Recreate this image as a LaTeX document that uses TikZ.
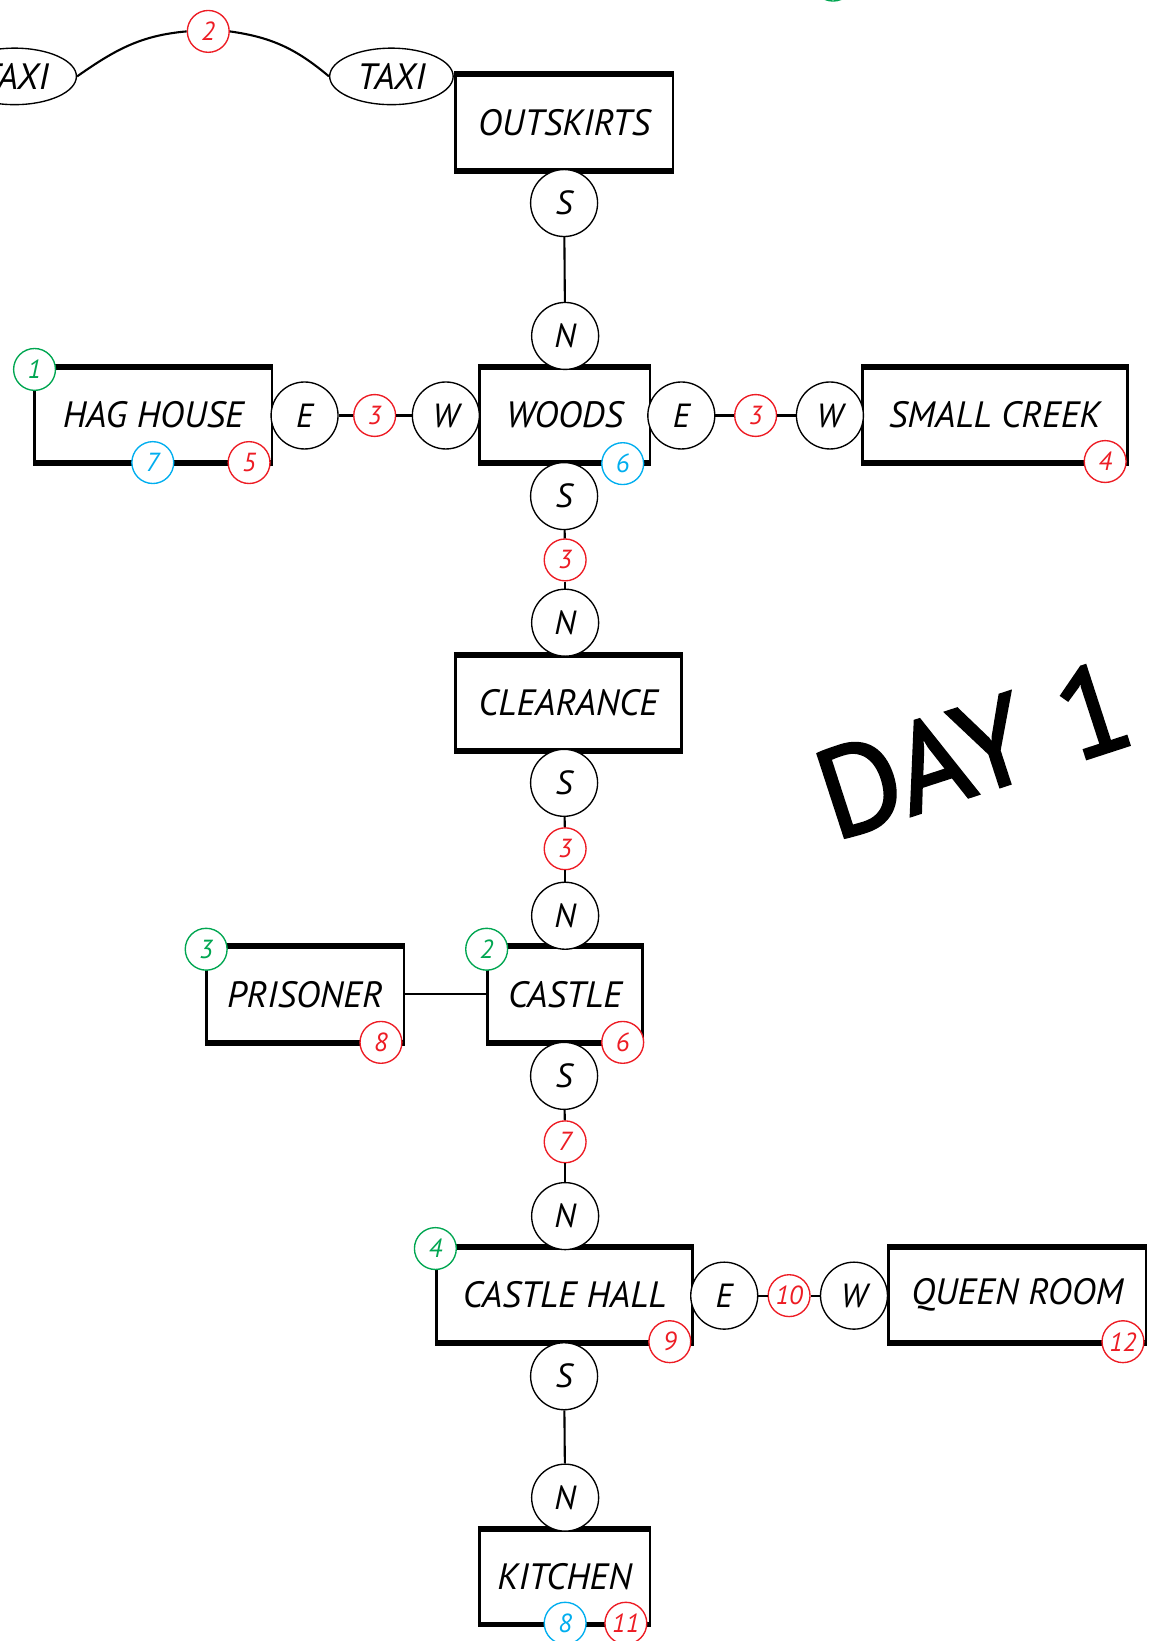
\documentclass[tikz,border=0pt]{standalone}
\usepackage{fontspec}
\setmainfont{PT Sans}
\newfontfamily\dayfont[FakeBold=2]{PT Sans}
\usetikzlibrary{shapes.geometric}
\definecolor{bred}{HTML}{ED1C24}
\definecolor{bblue}{HTML}{00AEEF}
\definecolor{bgreen}{HTML}{00A651}
\tikzset{
  room/.style={draw, line width=2.6, fill=white, inner sep=0, font=\itshape\fontsize{35}{35}\selectfont},
  roomedge/.style={line width=5.5},
  dir/.style={circle, draw, line width=1.3, fill=white, minimum size=64, inner sep=0, font=\itshape\fontsize{32}{32}\selectfont},
  badge/.style={circle, draw=#1, text=#1, line width=1.3, fill=white, minimum size=40, inner sep=0, font=\itshape\fontsize{25}{25}\selectfont},
  taxi/.style={ellipse, draw, line width=1.3, fill=white, minimum width=118, minimum height=54, inner sep=0, font=\itshape\fontsize{35}{35}\selectfont},
  link/.style={line width=2}
}
\begin{document}
\begin{tikzpicture}[x=1pt,y=-1pt]
\useasboundingbox (0,0) rectangle (1098,1568);
\clip (0,0) rectangle (1098,1568);

% rooms
\node[room, minimum width=208, minimum height=90] (out) at (539,117) {OUTSKIRTS};
\node[room, minimum width=163, minimum height=89] (woods) at (539.5,396.5) {WOODS};
\node[room, minimum width=227, minimum height=89] (hag) at (146.5,396.5) {HAG HOUSE};
\node[room, minimum width=253, minimum height=89] (creek) at (950.5,396.5) {SMALL CREEK};
\node[room, minimum width=216, minimum height=89] (clear) at (543,671.5) {CLEARANCE};
\node[room, minimum width=148, minimum height=90] (castle) at (540,950) {CASTLE};
\node[room, minimum width=189, minimum height=90] (prison) at (291.5,950) {PRISONER};
\node[room, minimum width=245, minimum height=89] (hall) at (539.5,1237.5) {CASTLE HALL};
\node[room, minimum width=246, minimum height=89] (queen) at (972,1237.5) {QUEEN ROOM};
\node[room, minimum width=163, minimum height=89] (kitchen) at (539.5,1506.5) {KITCHEN};
\foreach \n in {out,woods,hag,creek,clear,castle,prison,hall,queen,kitchen}{
  \draw[roomedge] (\n.north west) -- (\n.north east);
  \draw[roomedge] (\n.south west) -- (\n.south east);
}

% taxis
\node[taxi] (taxil) at (14,73) {TAXI};
\node[taxi] (taxir) at (374,73) {TAXI};

% direction circles
\node[dir] (s1) at (539,194) {S};
\node[dir] (n1) at (540,321) {N};
\node[dir] (he) at (291,397) {E};
\node[dir] (ww) at (426,397) {W};
\node[dir] (we) at (651,397) {E};
\node[dir] (cw) at (793,397) {W};
\node[dir] (s2) at (539,474) {S};
\node[dir] (n2) at (540,595) {N};
\node[dir] (s3) at (539,748) {S};
\node[dir] (n3) at (540,875) {N};
\node[dir] (s4) at (539,1028) {S};
\node[dir] (n4) at (540,1162) {N};
\node[dir] (hle) at (692,1238) {E};
\node[dir] (qw) at (816,1238) {W};
\node[dir] (s5) at (539,1315) {S};
\node[dir] (n5) at (540,1431) {N};

% badges
\node[badge=bred] (b2) at (199,30) {2};
\node[badge=bgreen] (g0) at (796,-19) {};
\node[badge=bgreen] (g1) at (33,353) {1};
\node[badge=bblue] (bl7) at (146,442) {7};
\node[badge=bred] (r5) at (238,442) {5};
\node[badge=bred] (r3a) at (358,397) {3};
\node[badge=bblue] (bl6) at (595,443) {6};
\node[badge=bred] (r3b) at (722,397) {3};
\node[badge=bred] (r4) at (1056,441) {4};
\node[badge=bred] (r3c) at (540,535) {3};
\node[badge=bred] (r3d) at (540,811) {3};
\node[badge=bgreen] (g3) at (197,907) {3};
\node[badge=bred] (r8) at (364,996) {8};
\node[badge=bgreen] (g2) at (465,907) {2};
\node[badge=bred] (r6) at (595,996) {6};
\node[badge=bred] (r7) at (540,1091) {7};
\node[badge=bgreen] (g4) at (416,1193) {4};
\node[badge=bred] (r9) at (640,1282) {9};
\node[badge=bred] (r10) at (754,1238) {10};
\node[badge=bred] (r12) at (1073,1282) {12};
\node[badge=bblue] (bl8) at (540,1551) {8};
\node[badge=bred] (r11) at (598,1551) {11};

% connectors
\draw[link] (taxil.east) to[out=35,in=185] (b2.west);
\draw[link] (b2.east) to[out=-8,in=140] (taxir.west);
\draw[link] (s1) -- (n1);
\draw[link] (he) -- (r3a);
\draw[link] (r3a) -- (ww);
\draw[link] (we) -- (r3b);
\draw[link] (r3b) -- (cw);
\draw[link] (s2) -- (r3c);
\draw[link] (r3c) -- (n2);
\draw[link] (s3) -- (r3d);
\draw[link] (r3d) -- (n3);
\draw[link] (prison) -- (castle);
\draw[link] (s4) -- (r7);
\draw[link] (r7) -- (n4);
\draw[link] (hle) -- (r10);
\draw[link] (r10) -- (qw);
\draw[link] (s5) -- (n5);

% title
\node[rotate=18, inner sep=0, font=\dayfont\fontsize{120}{120}\selectfont] (day) at (930,716) {DAY\hspace{0.3em}1};
\end{tikzpicture}
\end{document}
